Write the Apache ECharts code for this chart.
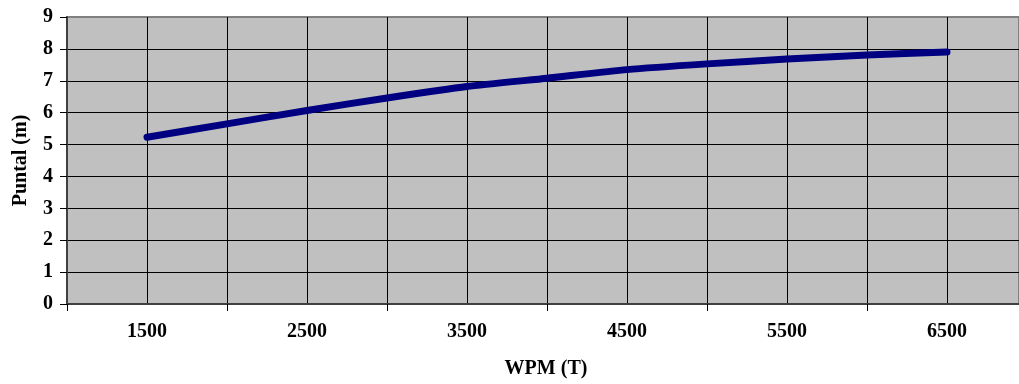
<!DOCTYPE html>
<html>
<head>
<meta charset="utf-8">
<script src="https://cdn.jsdelivr.net/npm/echarts@6/dist/echarts.min.js"></script>
<style>html,body{margin:0;padding:0;background:#fff;}#c{width:1019px;height:384px;}</style>
</head>
<body>
<div id="c"></div>
<script>
var wpm = [1500, 2000, 2500, 3000, 3500, 4000, 4500, 5000, 5500, 6000, 6500];
var puntal = [5.23, 5.65, 6.07, 6.46, 6.82, 7.08, 7.35, 7.53, 7.68, 7.81, 7.90];
var xLabels = [1500, 2500, 3500, 4500, 5500, 6500];
var xTicks = [1000, 2000, 3000, 4000, 5000, 6000];
var yTicks = [0, 1, 2, 3, 4, 5, 6, 7, 8, 9];

var font = {fontFamily: '"Liberation Serif", "Times New Roman", serif', fontWeight: 'bold', fontSize: 20, color: '#000'};
var chart = echarts.init(document.getElementById('c'), null, {renderer: 'canvas'});
chart.setOption({
  animation: false,
  grid: {left: 67, top: 17, right: 0, bottom: 79, show: true, backgroundColor: '#C0C0C0', borderColor: '#808080', borderWidth: 2},
  xAxis: [{
    type: 'value', min: 1000, max: 6950, interval: 500,
    axisLine: {show: true, lineStyle: {color: '#404040', width: 2}},
    axisTick: {show: false},
    splitLine: {show: true, showMinLine: false, showMaxLine: false, lineStyle: {color: '#000', width: 1}},
    axisLabel: Object.assign({margin: 18, showMaxLabel: false, formatter: function (v) { return xLabels.indexOf(v) >= 0 ? String(v) : ''; }}, font),
    name: 'WPM (T)', nameLocation: 'middle', nameGap: 55,
    nameTextStyle: Object.assign({padding: [0, 0, 0, 6]}, font)
  }, {
    type: 'value', min: 1000, max: 6950, interval: 1000, position: 'bottom',
    axisLine: {show: false},
    axisTick: {show: true, inside: false, length: 7, customValues: xTicks, lineStyle: {color: '#000', width: 1}},
    splitLine: {show: false},
    axisLabel: {show: false}
  }],
  yAxis: {
    type: 'value', min: 0, max: 9, interval: 1,
    axisLine: {show: true, lineStyle: {color: '#404040', width: 2}},
    axisTick: {show: true, length: 7, lineStyle: {color: '#000', width: 1}},
    splitLine: {show: true, showMinLine: false, showMaxLine: false, lineStyle: {color: '#000', width: 1}},
    axisLabel: Object.assign({margin: 14, formatter: function (v) { return yTicks.indexOf(v) >= 0 ? String(v) : ''; }}, font),
    name: 'Puntal (m)', nameLocation: 'middle', nameGap: 36, nameRotate: 90,
    nameTextStyle: font
  },
  series: [{
    type: 'line', xAxisIndex: 0,
    data: wpm.map(function (x, i) { return [x, puntal[i]]; }),
    showSymbol: false, smooth: 0.2,
    lineStyle: {color: '#000080', width: 7, cap: 'round', join: 'round'}
  }]
});
</script>
</body>
</html>
